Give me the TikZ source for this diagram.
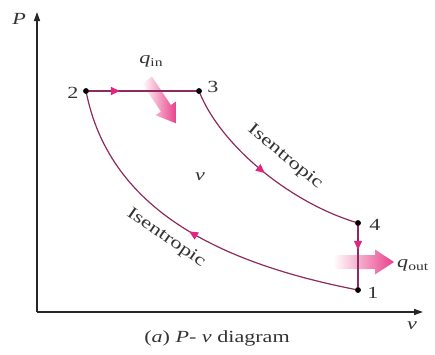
\documentclass[tikz,border=0pt]{standalone}
\usepackage{fontspec}
\setmainfont{Liberation Serif}
\usetikzlibrary{arrows.meta,decorations.markings}
\definecolor{curvec}{HTML}{8E2A5E}
\definecolor{mag}{HTML}{E0267E}
\definecolor{heat}{HTML}{E8408A}
\definecolor{txt}{HTML}{333333}
\newcommand\wtext[2][1.3]{\scalebox{#1}[1]{#2}}
\begin{document}
\begin{tikzpicture}[x=1pt,y=-1pt,
  lbl/.style={font=\fontsize{17}{17}\selectfont, inner sep=0pt, text=txt},
  dotn/.style={circle,fill=black,inner sep=0pt,minimum size=5.5pt},
  proc/.style={draw=curvec,line width=1.2pt},
  midarrow/.style={postaction={decorate},decoration={markings,mark=at position #1 with {\arrow{Triangle[length=9pt,width=8pt,color=mag]}}}},
  axis/.style={draw=black!85,line width=1.4pt,-{Triangle[length=9pt,width=6pt]}}
]
\useasboundingbox (0,0) rectangle (435,354);
% axes
\coordinate (O) at (37,312);
\coordinate (Ptip) at (37,12);
\coordinate (vtip) at (423,312);
\draw[axis] (O) -- (Ptip);
\draw[axis] (O) -- (vtip);
\node[lbl] (Plab) at (19,19) {\wtext{\textit{P}}};
\node[lbl] (vlab) at (412,326) {\wtext{\textit{v}}};
% heat arrows
\begin{scope}[shift={(147,80)},rotate=-56.3]
  \shade[left color=white,right color=heat] (0,-6) -- (34,-6) -- (34,-12.5) -- (52,0) -- (34,12.5) -- (34,6) -- (0,6) -- cycle;
\end{scope}
\begin{scope}[shift={(333,262)}]
  \shade[left color=white,right color=heat] (0,-7) -- (42,-7) -- (42,-12.5) -- (61,0) -- (42,12.5) -- (42,7) -- (0,7) -- cycle;
\end{scope}
% state points
\node[dotn] (n2) at (86,91) {};
\node[dotn] (n3) at (199,91) {};
\node[dotn] (n4) at (358,223) {};
\node[dotn] (n1) at (358,290) {};
% processes
\draw[proc,midarrow=0.3] (n2.center) -- (n3.center);
\draw[proc,midarrow=0.5] (n3.center) .. controls (220,145) and (290,203) .. (n4.center);
\draw[proc,midarrow=0.4] (n4.center) -- (n1.center);
\draw[proc,midarrow=0.5] (n1.center) .. controls (230,265) and (110,215) .. (n2.center);
\node[dotn] at (n2) {};
\node[dotn] at (n3) {};
\node[dotn] at (n4) {};
\node[dotn] at (n1) {};
% labels
\node[lbl] (l2) at (73,93) {\wtext{2}};
\node[lbl] (l3) at (213,87) {\wtext{3}};
\node[lbl] (l4) at (375,225) {\wtext{4}};
\node[lbl] (l1) at (373,293) {\wtext{1}};
\node[lbl] (qin) at (151,61) {\wtext{\textit{q}\raisebox{-3pt}{\fontsize{12}{12}\selectfont in}}};
\node[lbl,anchor=west] (qout) at (397,265) {\wtext{\textit{q}\raisebox{-3pt}{\fontsize{12}{12}\selectfont out}}};
\node[lbl] (vmid) at (200,177) {\wtext{\textit{v}}};
\node[lbl,rotate=-39.6] (ise1) at (285,157) {\wtext[1.35]{Isentropic}};
\node[lbl,rotate=-34.7] (ise2) at (166,238) {\wtext[1.35]{Isentropic}};
\node[lbl] (cap) at (217,338) {\wtext{(\textit{a}) \textit{P}- \textit{v} diagram}};
\end{tikzpicture}
\end{document}
